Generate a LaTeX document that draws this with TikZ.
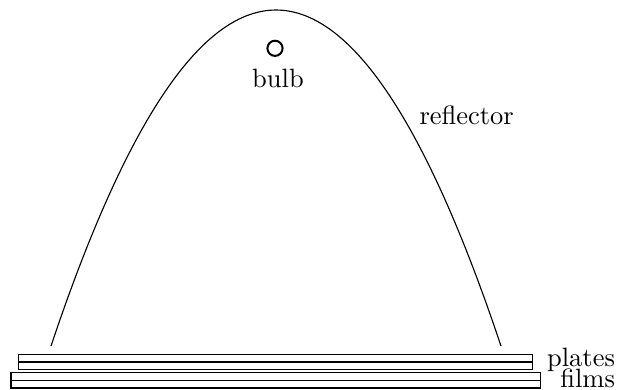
\documentclass[tikz,border=0pt]{standalone}
\tikzset{
  px/.style={x=0.4pt,y=-0.4pt},
  reflectorline/.style={line width=0.45pt,black},
  plate/.style={line width=0.45pt,black},
  lamp/.style={line width=0.8pt,black},
  caption/.style={inner sep=0pt,text=black,font=\fontsize{10.6}{12}\selectfont}
}
\begin{document}
\begin{tikzpicture}[px]
\useasboundingbox (0,0) rectangle (618,389);
\draw[reflectorline] plot[smooth,domain=-225:225,samples=61] ({276+\x},{10+336*(\x/225)*(\x/225)});
\draw[plate] (18.3,354.3) rectangle (532.6,369.3);
\draw[plate] (18.3,362) -- (532.6,362);
\draw[plate] (11,372.8) rectangle (540.3,388);
\draw[plate] (11,380.6) -- (540.3,380.6);
\draw[lamp] (275,48.3) circle (7.6);
\node[caption,anchor=base] (bulb) at (278,87) {bulb};
\node[caption,anchor=base west] (refl) at (419,124) {reflector};
\node[caption,anchor=base east] (plates) at (615.5,366) {plates};
\node[caption,anchor=base east] (films) at (615.5,387.3) {films};
\end{tikzpicture}
\end{document}
